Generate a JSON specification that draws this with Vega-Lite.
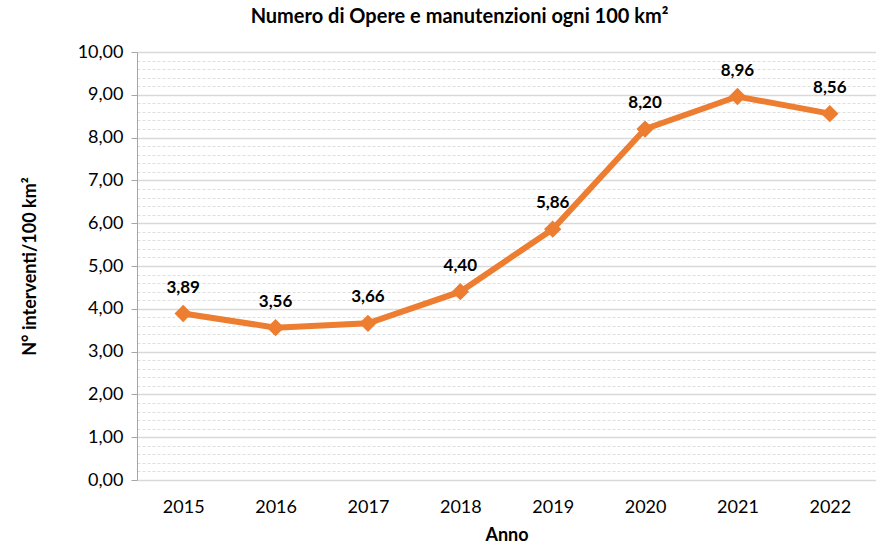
{
  "$schema": "https://vega.github.io/schema/vega-lite/v6.json",
  "width": 739,
  "height": 428,
  "autosize": {"type": "none"},
  "padding": {"left": 137, "top": 52, "right": 0, "bottom": 67},
  "background": "white",
  "config": {
    "view": {"stroke": null},
    "font": "Lato",
    "locale": {"number": {"decimal": ",", "thousands": ".", "grouping": [3], "currency": ["€", ""]}}
  },
  "title": {
    "text": "Numero di Opere e manutenzioni ogni 100 km²",
    "font": "Lato",
    "fontSize": 20,
    "fontWeight": "bold",
    "color": "#000000",
    "anchor": "middle",
    "dx": -47,
    "offset": 16
  },
  "data": {
    "values": [
      {"anno": "2015", "valore": 3.89},
      {"anno": "2016", "valore": 3.56},
      {"anno": "2017", "valore": 3.66},
      {"anno": "2018", "valore": 4.40},
      {"anno": "2019", "valore": 5.86},
      {"anno": "2020", "valore": 8.20},
      {"anno": "2021", "valore": 8.96},
      {"anno": "2022", "valore": 8.56}
    ]
  },
  "encoding": {
    "x": {
      "field": "anno",
      "type": "ordinal",
      "scale": {"type": "point", "padding": 0.5},
      "axis": {
        "title": "Anno",
        "titleFont": "Lato",
        "titleFontSize": 18,
        "titleFontWeight": "bold",
        "titleColor": "#000000",
        "titlePadding": 10,
        "labelAngle": 0,
        "labelFont": "Lato",
        "labelFontSize": 18,
        "labelColor": "#000000",
        "labelPadding": 18,
        "ticks": false,
        "domain": false,
        "grid": false
      }
    },
    "y": {
      "field": "valore",
      "type": "quantitative",
      "scale": {"domain": [0, 10], "nice": false},
      "axis": {
        "title": "N° interventi/100 km²",
        "titleFont": "Lato",
        "titleFontSize": 18,
        "titleFontWeight": "bold",
        "titleColor": "#000000",
        "titlePadding": 38,
        "values": [0, 0.2, 0.4, 0.6, 0.8, 1, 1.2, 1.4, 1.6, 1.8, 2, 2.2, 2.4, 2.6, 2.8, 3, 3.2, 3.4, 3.6, 3.8, 4, 4.2, 4.4, 4.6, 4.8, 5, 5.2, 5.4, 5.6, 5.8, 6, 6.2, 6.4, 6.6, 6.8, 7, 7.2, 7.4, 7.6, 7.8, 8, 8.2, 8.4, 8.6, 8.8, 9, 9.2, 9.4, 9.6, 9.8, 10],
        "labelExpr": "abs(datum.value - round(datum.value)) < 0.001 ? format(datum.value, '.2f') : ''",
        "labelFont": "Lato",
        "labelFontSize": 18,
        "labelColor": "#000000",
        "labelPadding": 8,
        "tickSize": 6,
        "tickColor": "#a6a6a6",
        "tickOpacity": {"condition": {"test": "abs(datum.value - round(datum.value)) < 0.001", "value": 1}, "value": 0},
        "domain": true,
        "domainColor": "#a6a6a6",
        "domainWidth": 1,
        "grid": true,
        "gridColor": {"condition": {"test": "abs(datum.value - round(datum.value)) < 0.001", "value": "#d9d9d9"}, "value": "#dedede"},
        "gridWidth": {"condition": {"test": "abs(datum.value - round(datum.value)) < 0.001", "value": 1.5}, "value": 1},
        "gridDash": {"condition": {"test": "abs(datum.value - round(datum.value)) < 0.001", "value": []}, "value": [3, 2]}
      }
    }
  },
  "layer": [
    {
      "mark": {"type": "line", "color": "#ED7D31", "strokeWidth": 6}
    },
    {
      "mark": {"type": "point", "shape": "diamond", "filled": true, "color": "#ED7D31", "size": 300, "opacity": 1}
    },
    {
      "mark": {"type": "text", "dy": -26, "font": "Lato", "fontSize": 17, "fontWeight": "bold", "color": "#000000"},
      "encoding": {"text": {"field": "valore", "type": "quantitative", "format": ".2f"}}
    }
  ]
}
